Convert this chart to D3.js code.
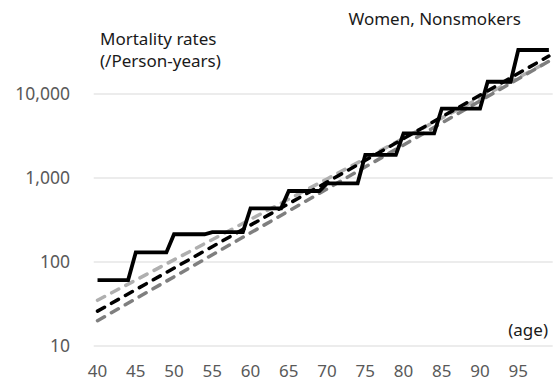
<!DOCTYPE html>
<html>
<head>
<meta charset="utf-8">
<script src="https://cdn.jsdelivr.net/npm/d3@7"></script>
<style>
  html, body { margin: 0; padding: 0; background: #fff; }
  svg { display: block; }
</style>
</head>
<body>
<div id="chart"></div>
<script>
var w = 556,
    h = 383;

// observed rates, constant within each age group
var groupStart = [40, 45, 50, 55, 60, 65, 70, 75, 80, 85, 91, 95];
var groupEnd   = [44, 49, 54, 59, 64, 69, 74, 79, 84, 90, 94, 99];
var groupRate  = [61, 130, 214, 227, 436, 700, 865, 1880, 3400, 6700, 14000, 33400];

// fitted curves (read at ages 40, 70, 99)
var fitAges      = [40, 70, 99];
var fitLightGray = [35, 975, 24500];
var fitBlack     = [26, 893, 28300];
var fitDarkGray  = [20, 740, 24500];

var xTicks = [40, 45, 50, 55, 60, 65, 70, 75, 80, 85, 90, 95];
var yTicks = [10, 100, 1000, 10000];

var ages = d3.range(40, 100);

var observed = [];
groupStart.forEach(function(s, i) {
  for (var a = s; a <= groupEnd[i]; a++) observed.push({age: a, rate: groupRate[i]});
});

function zipFit(vals) {
  return fitAges.map(function(a, i) { return {age: a, rate: vals[i]}; });
}

var svg = d3.select("#chart").append("svg")
    .attr("width", w)
    .attr("height", h);

var band = d3.scaleBand().domain(ages).range([93.7, 552.7]);
function x(a) { return band(a) + band.bandwidth() / 2; }

var y = d3.scaleLog().domain([10, 100000]).range([346, 10]);

var tickFont = "'Noto Sans', sans-serif",
    labelFont = "'Noto Sans', sans-serif";

// gridlines
svg.append("g").selectAll("line").data(yTicks).enter().append("line").
    attr("x1", 93.7).
    attr("x2", 552.7).
    attr("y1", function(d) { return y(d); }).
    attr("y2", function(d) { return y(d); }).
    attr("stroke", "#d9d9d9").
    attr("stroke-width", 1.2);

// y tick labels
svg.append("g").selectAll("text").data(yTicks).enter().append("text").
    attr("x", 70).
    attr("y", function(d) { return y(d); }).
    attr("dy", "0.36em").
    attr("text-anchor", "end").
    attr("fill", "#595959").
    style("font-family", tickFont).
    style("font-size", "17.5px").
    text(function(d) { return d3.format(",")(d); });

// x tick labels
svg.append("g").selectAll("text").data(xTicks).enter().append("text").
    attr("x", function(d) { return x(d); }).
    attr("y", 377).
    attr("text-anchor", "middle").
    attr("fill", "#595959").
    style("font-family", tickFont).
    style("font-size", "17px").
    text(function(d) { return d; });

var line = d3.line().
    x(function(d) { return x(d.age); }).
    y(function(d) { return y(d.rate); });

var dashed = [
  {vals: fitLightGray, color: "#afafaf"},
  {vals: fitDarkGray,  color: "#7f7f7f"},
  {vals: fitBlack,     color: "#000000"}
];

dashed.forEach(function(s) {
  svg.append("path").
      datum(zipFit(s.vals)).
      attr("d", line).
      attr("fill", "none").
      attr("stroke", s.color).
      attr("stroke-width", 3.5).
      attr("stroke-linecap", "round").
      attr("stroke-dasharray", "8,8");
});

svg.append("path").
    datum(observed).
    attr("d", line).
    attr("fill", "none").
    attr("stroke", "#000").
    attr("stroke-width", 3.8).
    attr("stroke-linejoin", "miter");

// labels
svg.append("text").
    attr("x", 100).attr("y", 45).
    style("font-family", labelFont).style("font-size", "17px").
    attr("fill", "#1a1a1a").
    text("Mortality rates");

svg.append("text").
    attr("x", 100).attr("y", 67).
    style("font-family", labelFont).style("font-size", "17px").
    attr("fill", "#1a1a1a").
    text("(/Person-years)");

svg.append("text").
    attr("x", 521).attr("y", 25).
    attr("text-anchor", "end").
    style("font-family", labelFont).style("font-size", "17px").
    attr("fill", "#1a1a1a").
    text("Women, Nonsmokers");

svg.append("text").
    attr("x", 548).attr("y", 336).
    attr("text-anchor", "end").
    style("font-family", labelFont).style("font-size", "17px").
    attr("fill", "#1a1a1a").
    text("(age)");
</script>
</body>
</html>
